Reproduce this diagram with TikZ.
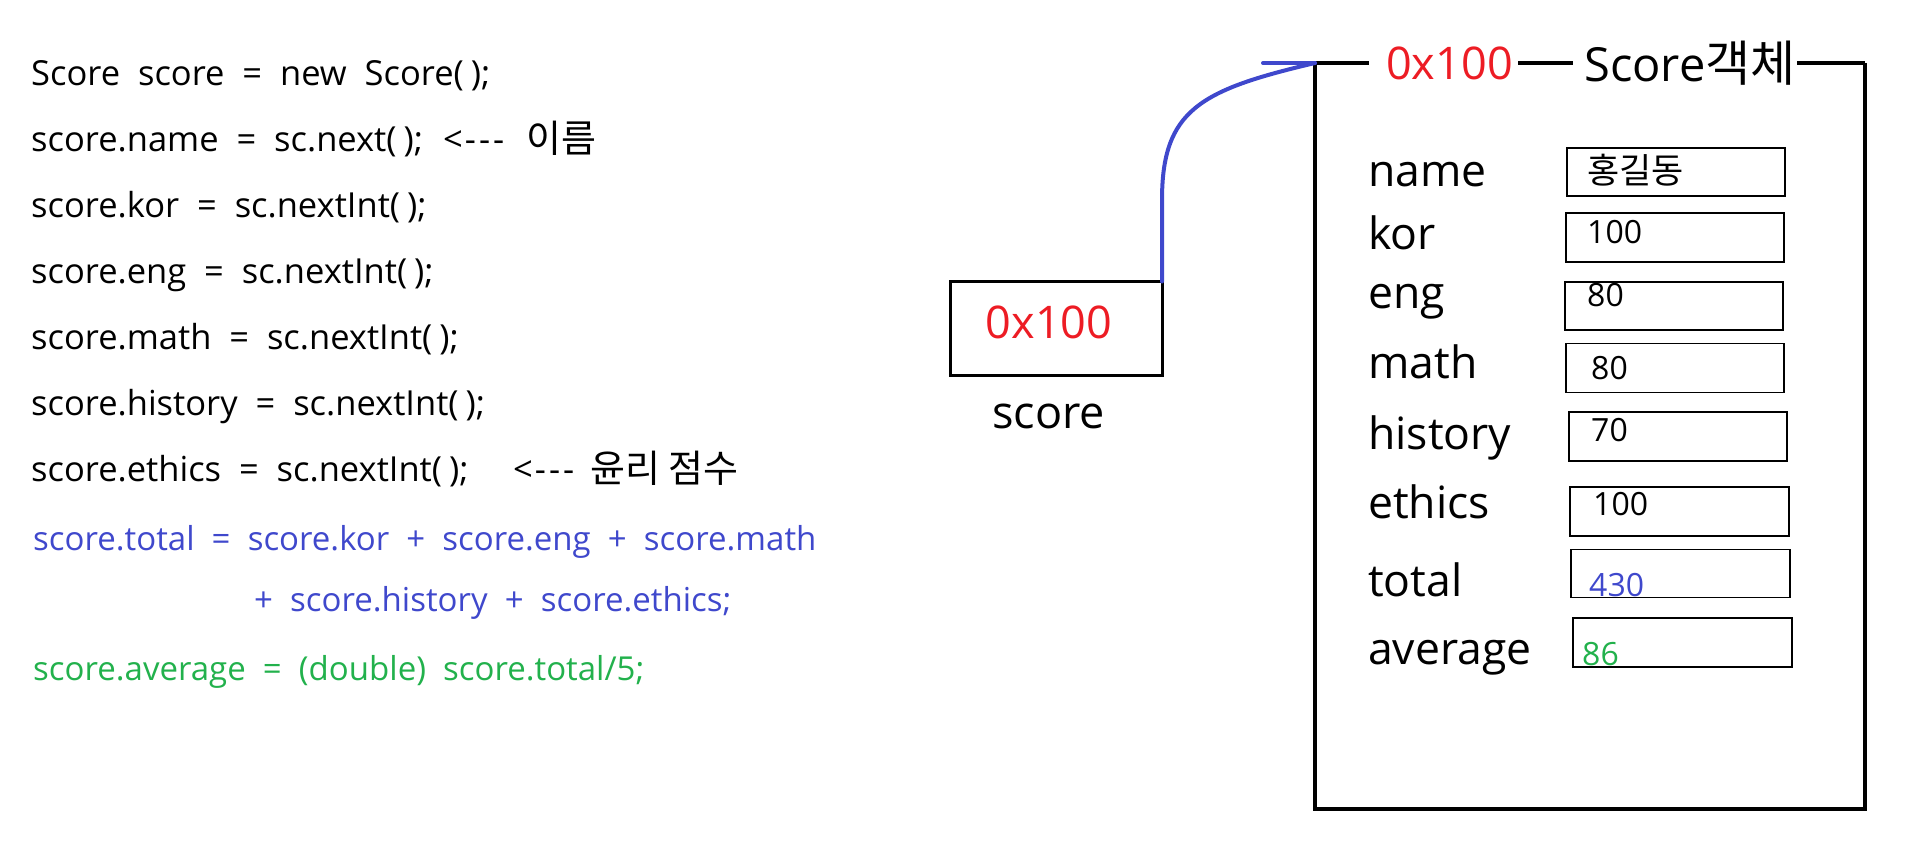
\documentclass[tikz,border=0pt]{standalone}
\usepackage{fontspec}
\setmainfont{Open Sans}
\newfontfamily\codefont[WordSpace=2.0]{Open Sans}
\newfontfamily\kr{Noto Sans CJK KR}
\definecolor{pred}{HTML}{ED1C24}
\definecolor{pblue}{HTML}{3F48CC}
\definecolor{pgreen}{HTML}{22B14C}
\newcommand{\larr}{<\kern2pt-\kern3pt-\kern3pt-}
\newcommand{\pp}{(\kern7pt)}
\begin{document}
\begin{tikzpicture}[x=1pt,y=-1pt,
  code/.style={anchor=base west, inner sep=0pt, font=\codefont\fontsize{34.5}{40}\selectfont},
  codec/.style={anchor=base west, inner sep=0pt, font=\codefont\fontsize{33}{38}\selectfont},
  krcode/.style={anchor=base west, inner sep=0pt, font=\kr\fontsize{38}{44}\selectfont},
  lbl/.style={anchor=base west, inner sep=0pt, font=\fontsize{44.5}{52}\selectfont},
  val/.style={anchor=base west, inner sep=0pt, font=\fontsize{32}{38}\selectfont},
  big/.style={anchor=base west, inner sep=0pt, font=\fontsize{45}{52}\selectfont},
  vbox/.style={draw, line width=1.3pt, inner sep=0pt, outer sep=0pt},
  heavy/.style={line width=4.5pt},
  arrowline/.style={draw=pblue, line width=4pt, line cap=round}
]
\useasboundingbox (0,0) rectangle (1917,857);

% code lines
\node[code] (c1) at (31,85.5) {Score score = new Score\pp;};
\node[code] (c2) at (31,151.5) {score.name = sc.next\pp;};
\node[code] (c2a) at (443,151.5) {\larr};
\node[krcode] (c2k) at (526,152.5) {이름};
\node[code] (c3) at (31,217.5) {score.kor = sc.nextInt\pp;};
\node[code] (c4) at (31,283.5) {score.eng = sc.nextInt\pp;};
\node[code] (c5) at (31,349.5) {score.math = sc.nextInt\pp;};
\node[code] (c6) at (31,415.5) {score.history = sc.nextInt\pp;};
\node[code] (c7) at (31,481.5) {score.ethics = sc.nextInt\pp;};
\node[code] (c7a) at (513,481.5) {\larr};
\node[krcode] (c7k) at (590,482.5) {윤리 점수};
\node[codec, text=pblue] (b1) at (33,550) {score.total = score.kor + score.eng + score.math};
\node[codec, text=pblue] (b2) at (254,611) {+ score.history + score.ethics;};
\node[codec, text=pgreen] (g1) at (33,680.5) {score.average = (double) score.total/5;};

% reference variable box
\node[draw, line width=3pt, inner sep=0pt, outer sep=0pt, minimum width=211.5pt, minimum height=94pt] (sbox) at (1056.25,328.5) {};
\node[big, text=pred] (saddr) at (985.5,338) {0x100};
\node[big] (sname) at (992,428) {score};

% object box
\coordinate (boxTL) at (1315,63);
\coordinate (boxTR) at (1865,63);
\coordinate (boxBL) at (1315,809);
\coordinate (boxBR) at (1865,809);
\draw[heavy] (boxTL) -- (boxBL) -- (boxBR) -- (boxTR);
\node[big, text=pred] (t1) at (1386,79) {0x100};
\node[big, font=\fontsize{47}{54}\selectfont] (t2) at (1584,81) {Score{\kr\fontsize{49}{54}\selectfont 객체}};
\coordinate (s1) at (1369,63);
\coordinate (s2) at (1518,63);
\coordinate (s3) at (1573,63);
\coordinate (s4) at (1797,63);
\draw[heavy] (boxTL) -- (s1);
\draw[heavy] (s2) -- (s3);
\draw[heavy] (s4) -- (boxTR);

% field labels
\node[lbl] (lname) at (1368,186) {name};
\node[lbl] (lkor) at (1368,249) {kor};
\node[lbl] (leng) at (1368,308) {eng};
\node[lbl] (lmath) at (1368,378) {math};
\node[lbl] (lhist) at (1368,449) {history};
\node[lbl] (leth) at (1368,518.5) {ethics};
\node[lbl] (ltot) at (1368,596) {total};
\node[lbl] (lavg) at (1368,664) {average};

% value boxes
\node[vbox, minimum width=218pt, minimum height=48pt] (vname) at (1676,172) {};
\node[vbox, minimum width=218pt, minimum height=49pt] (vkor) at (1675,237.5) {};
\node[vbox, minimum width=218pt, minimum height=48pt] (veng) at (1674,306) {};
\node[vbox, minimum width=218pt, minimum height=49pt] (vmath) at (1675,368) {};
\node[vbox, minimum width=218pt, minimum height=49pt] (vhist) at (1678,436.5) {};
\node[vbox, minimum width=219pt, minimum height=49pt] (veth) at (1679.5,511.5) {};
\node[vbox, minimum width=219pt, minimum height=48pt] (vtot) at (1680.5,573.5) {};
\node[vbox, minimum width=219pt, minimum height=49pt] (vavg) at (1682.5,642.5) {};

% values
\node[val, font=\kr\fontsize{35}{40}\selectfont] (xname) at (1587,183) {홍길동};
\node[val] (xkor) at (1587,243) {100};
\node[val] (xeng) at (1587,306) {80};
\node[val] (xmath) at (1591,379) {80};
\node[val] (xhist) at (1591,441) {70};
\node[val] (xeth) at (1593,515.5) {100};
\node[val, text=pblue] (xtot) at (1589,596.5) {430};
\node[val, text=pgreen] (xavg) at (1582,665.5) {86};

% pointer arrow
\coordinate (a1) at (1162,200);
\coordinate (stub) at (1263,63);
\draw[arrowline] (sbox.north east) -- (a1) .. controls (1162,110) and (1200,90) .. (boxTL);
\draw[arrowline] (stub) -- (boxTL);
\end{tikzpicture}
\end{document}
